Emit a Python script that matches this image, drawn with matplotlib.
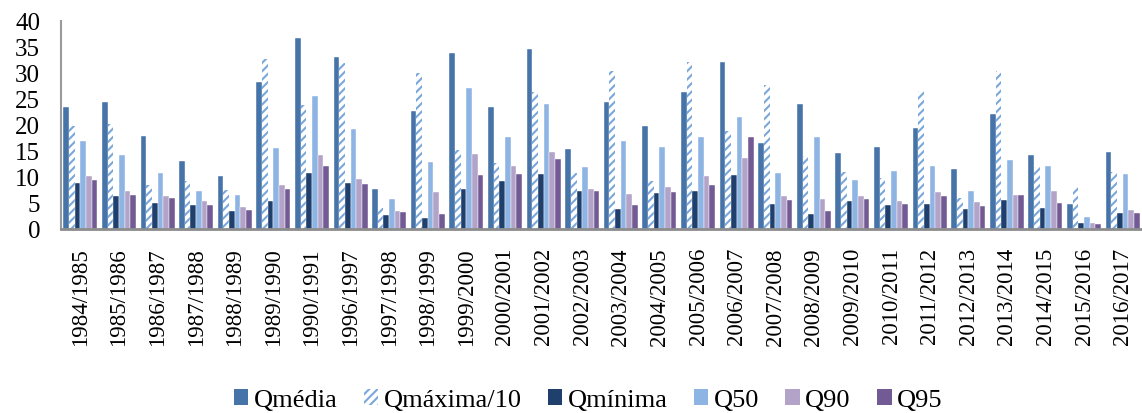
import matplotlib
matplotlib.use("Agg")
import matplotlib.pyplot as plt
import numpy as np
from matplotlib.patches import Patch

years = ["1984/1985", "1985/1986", "1986/1987", "1987/1988", "1988/1989",
         "1989/1990", "1990/1991", "1996/1997", "1997/1998", "1998/1999",
         "1999/2000", "2000/2001", "2001/2002", "2002/2003", "2003/2004",
         "2004/2005", "2005/2006", "2006/2007", "2007/2008", "2008/2009",
         "2009/2010", "2010/2011", "2011/2012", "2012/2013", "2013/2014",
         "2014/2015", "2015/2016", "2016/2017"]

q_media = [23.5, 24.5, 17.9, 13.1, 10.1, 28.2, 36.7, 33.1, 7.6, 22.7,
           33.9, 23.5, 34.6, 15.3, 24.5, 19.75, 26.3, 32.1, 16.5, 24.0,
           14.6, 15.8, 19.4, 11.5, 22.1, 14.2, 4.9, 14.9]
q_max10 = [19.9, 20.2, 8.4, 9.3, 7.5, 32.7, 23.8, 31.9, 4.0, 30.0,
           15.1, 12.7, 26.3, 10.8, 30.3, 9.3, 32.1, 18.8, 27.7, 14.1,
           10.9, 9.8, 26.6, 5.9, 30.4, 11.9, 8.0, 11.0]
q_min = [8.8, 6.3, 5.0, 4.6, 3.4, 5.4, 10.8, 8.8, 2.75, 2.2,
         7.7, 9.3, 10.6, 7.4, 3.9, 6.9, 7.25, 10.3, 4.9, 2.9,
         5.4, 4.7, 4.8, 3.8, 5.6, 4.0, 1.15, 3.1]
q50 = [16.9, 14.3, 10.8, 7.3, 6.6, 15.6, 25.6, 19.3, 5.8, 12.9,
       27.1, 17.7, 24.0, 11.9, 16.9, 15.8, 17.6, 21.5, 10.8, 17.75,
       9.4, 11.1, 12.1, 7.4, 13.3, 12.1, 2.25, 10.6]
q90 = [10.2, 7.4, 6.3, 5.3, 4.2, 8.4, 14.2, 9.6, 3.5, 7.1,
       14.4, 12.2, 14.9, 7.75, 6.8, 8.0, 10.2, 13.7, 6.4, 5.8,
       6.4, 5.4, 7.2, 5.2, 6.5, 7.25, 1.2, 3.7]
q95 = [9.4, 6.5, 5.9, 4.6, 3.7, 7.7, 12.1, 8.7, 3.2, 2.9,
       10.4, 10.5, 13.5, 7.3, 4.7, 7.1, 8.5, 17.6, 5.6, 3.5,
       5.8, 4.8, 6.3, 4.5, 6.5, 5.0, 1.0, 3.1]

series_names = ["Qmédia", "Qmáxima/10", "Qmínima", "Q50", "Q90", "Q95"]
series_values = [q_media, q_max10, q_min, q50, q90, q95]
colors = ["#4674A9", "white", "#1F3F6C", "#8EB4E3", "#B3A3C8", "#725B94"]
hatch_color = "#7AA7DA"

plt.rcParams["font.family"] = ["Liberation Serif", "DejaVu Serif"]
plt.rcParams["hatch.linewidth"] = 1.5
plt.rcParams["hatch.color"] = hatch_color

fig = plt.figure(figsize=(11.42, 4.14), dpi=100)
ax = fig.add_axes([61 / 1142, 184 / 414, 1 - 61 / 1142, 208 / 414])

x = np.arange(len(years))
group_w = 0.88
bw = group_w / len(series_names)
for i, (name, vals) in enumerate(zip(series_names, series_values)):
    offs = -group_w / 2 + bw * (i + 0.5)
    if name == "Qmáxima/10":
        ax.bar(x + offs, vals, bw, color="white", edgecolor=hatch_color,
               hatch="////", linewidth=0, label=name)
    else:
        ax.bar(x + offs, vals, bw, color=colors[i], edgecolor="white",
               linewidth=0.3, label=name)

ax.set_xlim(-0.5, len(years) - 0.5)
ax.set_ylim(0, 40)
ax.set_yticks(np.arange(0, 41, 5))
ax.set_xticks(x)
ax.set_xticklabels(years, rotation=90, fontsize=16.5)
ax.tick_params(axis="y", length=0, pad=15, labelsize=18)
ax.tick_params(axis="x", length=0, pad=13)
for s in ["top", "right"]:
    ax.spines[s].set_visible(False)
ax.spines["left"].set_color("#9A9A9A")
ax.spines["bottom"].set_color("#8C8C8C")
ax.spines["bottom"].set_linewidth(2)
ax.spines["left"].set_linewidth(1.5)

handles = []
for i, name in enumerate(series_names):
    if name == "Qmáxima/10":
        handles.append(Patch(facecolor="white", edgecolor=hatch_color,
                             hatch="////", linewidth=0, label=name))
    else:
        handles.append(Patch(facecolor=colors[i], edgecolor="none", label=name))
fig.legend(handles=handles, loc="center", ncol=6, frameon=False,
           bbox_to_anchor=(588 / 1142, 1 - 401 / 414), fontsize=19,
           handlelength=0.55, handleheight=0.55, handletextpad=0.2,
           columnspacing=1.0, borderpad=0.1)

fig.savefig("out.png", dpi=100)
